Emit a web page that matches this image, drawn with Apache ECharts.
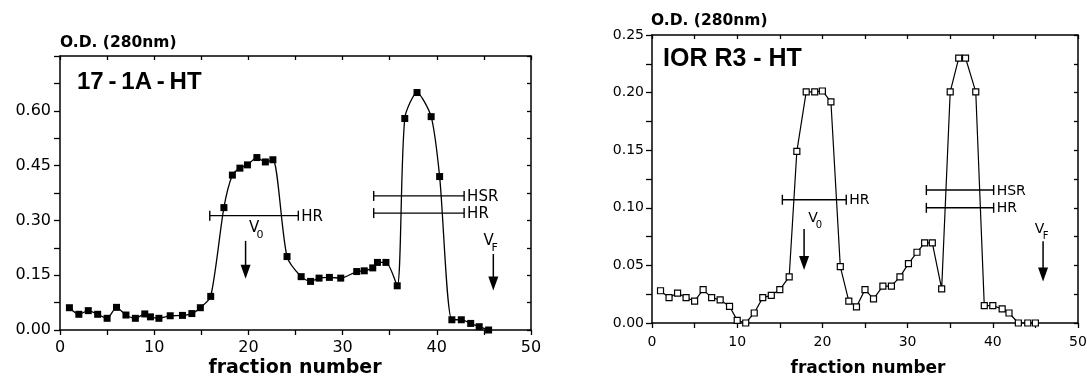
<!DOCTYPE html>
<html><head><meta charset="utf-8">
<script src="https://cdn.jsdelivr.net/npm/echarts@6/dist/echarts.min.js"></script>
<style>html,body{margin:0;padding:0;background:#fff}#c{width:1087px;height:378px}</style>
</head><body><div id="c"></div>
<script>
// ---- Left panel: 17-1A-HT ----
const leftX = [1,2,3,4,5,6,7,8,9,9.6,10.5,11.7,13,14,14.9,16,17.4,18.3,19.1,19.9,20.9,21.8,22.6,24.1,25.6,26.6,27.5,28.6,29.8,31.5,32.3,33.2,33.7,34.6,35.8,36.6,37.9,39.4,40.3,41.6,42.6,43.6,44.5,45.5];
const leftY = [0.061,0.043,0.053,0.043,0.032,0.062,0.041,0.032,0.044,0.036,0.032,0.039,0.040,0.045,0.061,0.092,0.335,0.424,0.443,0.452,0.472,0.460,0.466,0.201,0.146,0.133,0.142,0.144,0.142,0.160,0.162,0.170,0.185,0.185,0.121,0.579,0.650,0.584,0.420,0.028,0.028,0.018,0.009,0.000];
const leftBarLabel = ['HR','HSR','HR'];
const leftBarFrom = [15.9, 33.3, 33.3];
const leftBarTo = [25.3, 42.9, 42.9];
const leftBarY = [0.313, 0.367, 0.320];
const leftArrowX = [19.7, 46.0];
const leftArrowTop = [0.244, 0.208];
const leftArrowTip = [0.140, 0.108];
const leftMarkX = [20.6, 45.5];
const leftMarkY = [0.279, 0.243];
const markMain = ['V','V'];
const markSub = ['0','F'];

// ---- Right panel: IOR R3 - HT ----
const rightX = [1,2,3,4,5,6,7,8,9.1,10,11,12,13,14,15,16.1,17,18.1,19.1,20,21,22.1,23.1,24,25,26,27.1,28.1,29.1,30.1,31.1,32,32.9,34,35,36,36.8,38,39,40,41.1,41.9,43,44.1,45];
const rightY = [0.028,0.022,0.026,0.022,0.019,0.029,0.022,0.020,0.0145,0.0023,0.000,0.0087,0.022,0.024,0.029,0.040,0.149,0.2006,0.2006,0.2014,0.192,0.049,0.019,0.014,0.029,0.021,0.032,0.032,0.040,0.0516,0.0614,0.0696,0.0696,0.0296,0.2006,0.230,0.230,0.2006,0.0151,0.0151,0.0122,0.0087,0.000,0.000,0.000];
const rightBarLabel = ['HR','HSR','HR'];
const rightBarFrom = [15.3, 32.2, 32.2];
const rightBarTo = [22.8, 40.1, 40.1];
const rightBarY = [0.107, 0.1154, 0.100];
const rightArrowX = [17.85, 45.9];
const rightArrowTop = [0.0817, 0.071];
const rightArrowTip = [0.046, 0.036];
const rightMarkX = [18.9, 45.5];
const rightMarkY = [0.0905, 0.081];

const xTicks = {min:0, max:50, interval:5};

const K = '#000';
function zip(a,b){return a.map((v,i)=>[v,b[i]]);}

function xAxes(grid, fs, margin){
  return [
    {gridIndex:grid, type:'value', position:'bottom', min:xTicks.min, max:xTicks.max, interval:xTicks.interval,
     axisLine:{onZero:false, lineStyle:{color:K, width:1.5}}, axisTick:{length:5, lineStyle:{color:K, width:1.3}},
     axisLabel:{color:K, fontFamily:'DejaVu Sans', fontSize:fs, margin:margin, showMinLabel:true, showMaxLabel:true,
       formatter:v=> (Math.round(v)%10===0 ? String(Math.round(v)) : '')},
     splitLine:{show:false}},
    {gridIndex:grid, type:'value', position:'top', min:xTicks.min, max:xTicks.max, interval:xTicks.interval,
     axisLine:{onZero:false, lineStyle:{color:K, width:1.5}}, axisTick:{inside:true, length:4, lineStyle:{color:K, width:1.3}},
     axisLabel:{show:false}, splitLine:{show:false}}
  ];
}
function yAxes(grid, max, step, fs, margin, hideTop){
  return [
    {gridIndex:grid, type:'value', position:'left', min:0, max:max, interval:step,
     axisLine:{onZero:false, lineStyle:{color:K, width:1.5}}, axisTick:{length:6, lineStyle:{color:K, width:1.3}},
     axisLabel:{color:K, fontFamily:'DejaVu Sans', fontSize:fs, margin:margin, showMinLabel:true, showMaxLabel:true,
       formatter:v=>{const k=Math.round(v/step); if(k%2!==0) return ''; if(hideTop && Math.abs(v-max)<1e-9) return ''; return (k*step).toFixed(2);}},
     splitLine:{show:false}},
    {gridIndex:grid, type:'value', position:'right', min:0, max:max, interval:step,
     axisLine:{onZero:false, lineStyle:{color:K, width:1.5}}, axisTick:{inside:true, length:4, lineStyle:{color:K, width:1.3}},
     axisLabel:{show:false}, splitLine:{show:false}}
  ];
}

function barSeries(xi, yi, from, to, ys, labels, fs){
  return {type:'custom', xAxisIndex:xi, yAxisIndex:yi, silent:true, z:3,
    data: from.map((f,i)=>[f, to[i], ys[i]]),
    renderItem:(params, api)=>{
      const i = params.dataIndex;
      const p1 = api.coord([api.value(0), api.value(2)]);
      const p2 = api.coord([api.value(1), api.value(2)]);
      const st = {stroke:K, lineWidth:1.4};
      return {type:'group', children:[
        {type:'line', shape:{x1:p1[0], y1:p1[1], x2:p2[0], y2:p2[1]}, style:st},
        {type:'line', shape:{x1:p1[0], y1:p1[1]-5, x2:p1[0], y2:p1[1]+5}, style:st},
        {type:'line', shape:{x1:p2[0], y1:p2[1]-5, x2:p2[0], y2:p2[1]+5}, style:st},
        {type:'text', x:p2[0]+3, y:p2[1]+1, style:{text:labels[i], fill:K, fontFamily:'DejaVu Sans', fontSize:fs, align:'left', verticalAlign:'middle'}}
      ]};
    }};
}
function arrowSeries(xi, yi, xs, tops, tips){
  return {type:'custom', xAxisIndex:xi, yAxisIndex:yi, silent:true, z:3,
    data: xs.map((x,i)=>[x, tops[i], tips[i]]),
    renderItem:(params, api)=>{
      const a = api.coord([api.value(0), api.value(1)]);
      const b = api.coord([api.value(0), api.value(2)]);
      return {type:'group', children:[
        {type:'line', shape:{x1:a[0], y1:a[1], x2:b[0], y2:b[1]-10}, style:{stroke:K, lineWidth:1.5}},
        {type:'polygon', shape:{points:[[b[0]-5,b[1]-14],[b[0]+5,b[1]-14],[b[0],b[1]]]}, style:{fill:K}}
      ]};
    }};
}
function markSeries(xi, yi, xs, ys, fs){
  return {type:'custom', xAxisIndex:xi, yAxisIndex:yi, silent:true, z:3,
    data: xs.map((x,i)=>[x, ys[i]]),
    renderItem:(params, api)=>{
      const i = params.dataIndex;
      const p = api.coord([api.value(0), api.value(1)]);
      return {type:'group', children:[
        {type:'text', x:p[0], y:p[1], style:{text:markMain[i], fill:K, fontFamily:'DejaVu Sans', fontSize:fs, align:'center', verticalAlign:'middle'}},
        {type:'text', x:p[0]+6, y:p[1]+7, style:{text:markSub[i], fill:K, fontFamily:'DejaVu Sans', fontSize:fs-4, align:'center', verticalAlign:'middle'}}
      ]};
    }};
}

const chart = echarts.init(document.getElementById('c'), null, {renderer:'canvas'});
chart.setOption({
  animation:false,
  backgroundColor:'#fff',
  grid:[
    {left:60, top:56, width:471, height:274, containLabel:false, outerBoundsMode:'none'},
    {left:652, top:35, width:426, height:288, containLabel:false, outerBoundsMode:'none'}
  ],
  xAxis:[...xAxes(0,16,10), ...xAxes(1,14,12)],
  yAxis:[...yAxes(0,0.75,0.075,16,9,true), ...yAxes(1,0.25,0.025,14,8,false)],
  graphic:[
    {type:'text', x:60, y:43, style:{text:'O.D. (280nm)', fill:K, fontFamily:'DejaVu Sans', fontWeight:'bold', fontSize:15.5, align:'left', verticalAlign:'middle'}},
    {type:'text', x:651, y:21, style:{text:'O.D. (280nm)', fill:K, fontFamily:'DejaVu Sans', fontWeight:'bold', fontSize:15.5, align:'left', verticalAlign:'middle'}},
    {type:'text', x:77, y:82, style:{text:'17\u2009-\u20091A\u2009-\u2009HT', fill:K, fontFamily:'Liberation Sans', fontWeight:'bold', fontSize:24, align:'left', verticalAlign:'middle'}},
    {type:'text', x:663, y:59, style:{text:'IOR R3 - HT', fill:K, fontFamily:'Liberation Sans', fontWeight:'bold', fontSize:25, align:'left', verticalAlign:'middle'}},
    {type:'text', x:295, y:368, style:{text:'fraction number', fill:K, fontFamily:'DejaVu Sans', fontWeight:'bold', fontSize:19, align:'center', verticalAlign:'middle'}},
    {type:'text', x:868, y:369, style:{text:'fraction number', fill:K, fontFamily:'DejaVu Sans', fontWeight:'bold', fontSize:17, align:'center', verticalAlign:'middle'}}
  ],
  series:[
    {type:'line', xAxisIndex:0, yAxisIndex:0, data:zip(leftX,leftY), symbol:'rect', symbolSize:7, smooth:0.25,
     itemStyle:{color:K}, lineStyle:{color:K, width:1.3}, z:2},
    {type:'line', xAxisIndex:2, yAxisIndex:2, data:zip(rightX,rightY), symbol:'rect', symbolSize:6,
     itemStyle:{color:'#fff', borderColor:K, borderWidth:1.2}, lineStyle:{color:K, width:1.2}, z:2},
    barSeries(0,0,leftBarFrom,leftBarTo,leftBarY,leftBarLabel,15),
    barSeries(2,2,rightBarFrom,rightBarTo,rightBarY,rightBarLabel,14),
    arrowSeries(0,0,leftArrowX,leftArrowTop,leftArrowTip),
    arrowSeries(2,2,rightArrowX,rightArrowTop,rightArrowTip),
    markSeries(0,0,leftMarkX,leftMarkY,15),
    markSeries(2,2,rightMarkX,rightMarkY,14)
  ]
});
</script></body></html>
